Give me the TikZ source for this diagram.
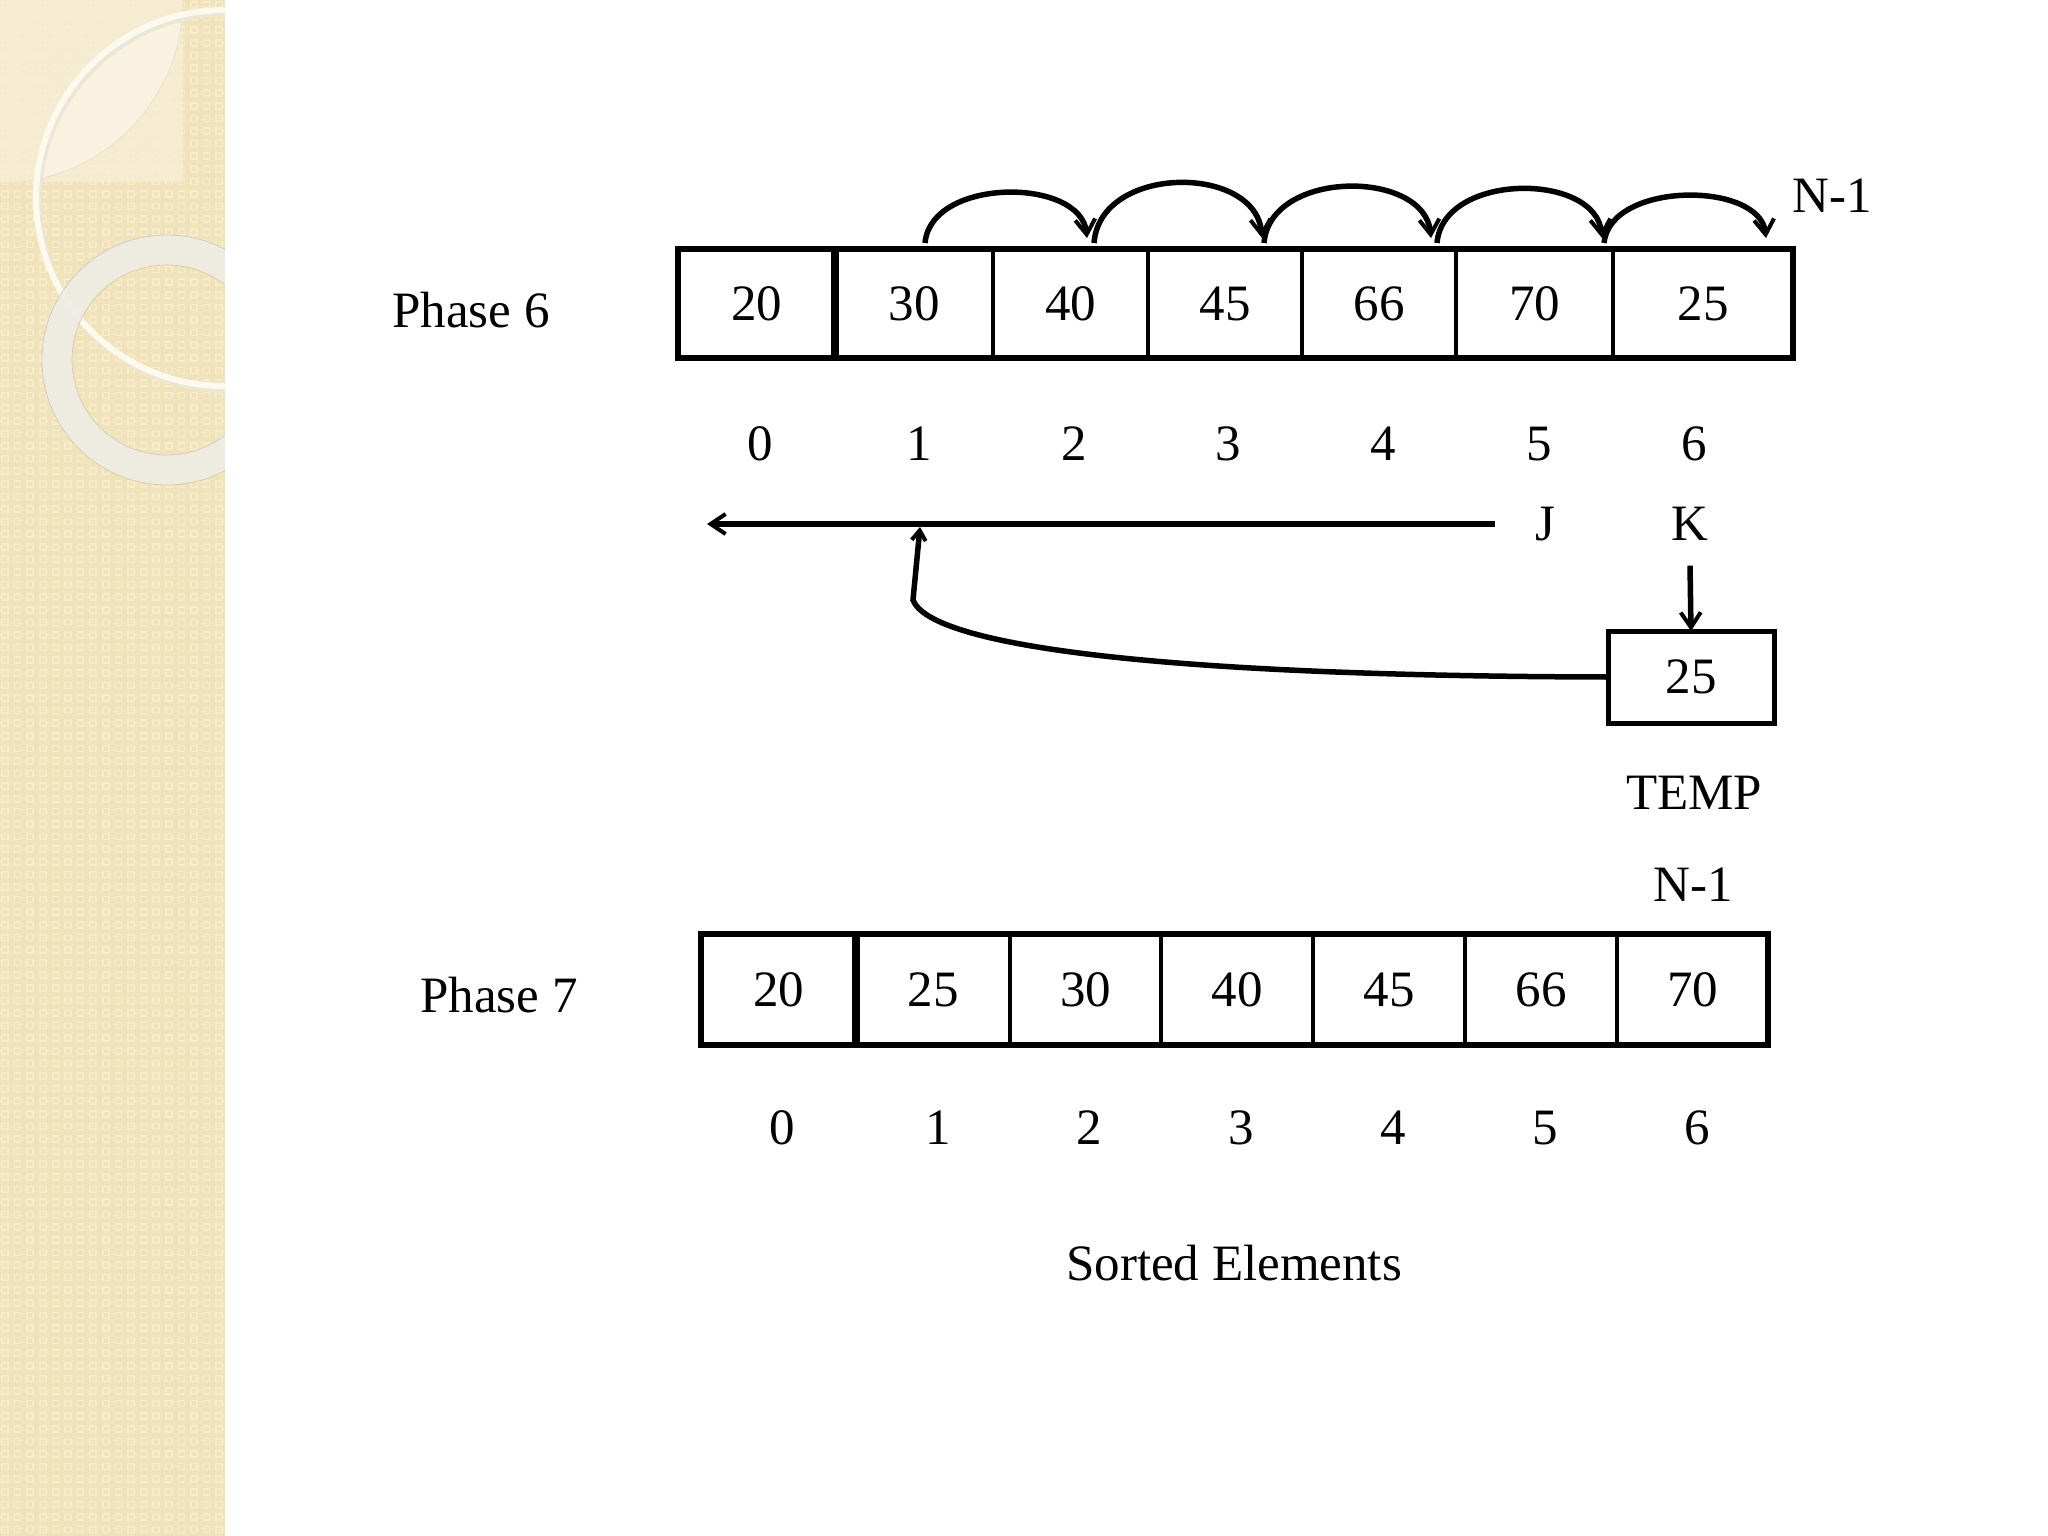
\documentclass[tikz,border=0pt]{standalone}
\usepackage{fontspec}
\setmainfont{Liberation Serif}
\usetikzlibrary{arrows.meta}
\definecolor{stripcol}{RGB}{240,226,187}
\definecolor{stripdot}{RGB}{246,235,203}
\definecolor{stripltc}{RGB}{247,238,214}
\definecolor{lenscol}{RGB}{250,244,228}
\definecolor{ringcol}{RGB}{238,236,229}
\definecolor{ringedge}{RGB}{215,205,180}
\definecolor{creamline}{RGB}{253,249,236}
\begin{document}
\begin{tikzpicture}[x=1pt,y=-1pt,
  txt/.style={inner sep=0pt, outer sep=0pt, font=\fontsize{51}{61}\selectfont},
  cell/.style={txt, draw, line width=4.5pt, minimum height=109pt},
  bcell/.style={txt, draw, line width=4.5pt, minimum height=111pt},
  arr/.style={line width=5.5pt, -{Straight Barb[length=15pt,width=20pt,line width=4pt]}},
  arrsm/.style={line width=5.5pt, -{Straight Barb[length=10pt,width=14pt,line width=4pt]}}
]
\useasboundingbox (0,0) rectangle (2048,1536);
\fill[white] (0,0) rectangle (2048,1536);
% decorative strip
\begin{scope}
\clip (0,0) rectangle (225,1536);
\fill[stripcol] (0,0) rectangle (225,1536);
\draw[stripdot, line width=1.6pt] \foreach \i in {0,...,17} {\foreach \j in {0,...,121} {(2+12.6*\i,2+12.6*\j) rectangle ++(6,6)}};
\fill[stripltc, opacity=0.8] (0,0) rectangle (183,182);
\begin{scope}
\clip (224,198) circle[radius=188];
\fill[lenscol, opacity=0.8] (183,0) arc[start angle=0, end angle=90, radius=183] -- (0,0) -- cycle;
\end{scope}
\draw[ringedge!60, line width=0.8pt] (183,0) arc[start angle=0, end angle=90, radius=183];
\draw[ringedge!50, line width=7pt] (226,201) circle[radius=188];
\draw[creamline, line width=6pt] (224,198) circle[radius=188];
\fill[ringcol, opacity=0.92, even odd rule] (167,360) circle[radius=125] (167,360) circle[radius=95];
\draw[ringedge, line width=0.8pt] (167,360) circle[radius=125] (167,360) circle[radius=95];
\end{scope}
% Phase 6
\node[txt] (p6) at (471,310) {Phase 6};
\node[cell, minimum width=157pt] (a0) at (756.5,303.5) {20};
\node[cell, minimum width=158pt] (a1) at (914,303.5) {30};
\node[cell, minimum width=155pt] (a2) at (1070.5,303.5) {40};
\node[cell, minimum width=154pt] (a3) at (1225,303.5) {45};
\node[cell, minimum width=154pt] (a4) at (1379,303.5) {66};
\node[cell, minimum width=157pt] (a5) at (1534.5,303.5) {70};
\node[cell, minimum width=180pt] (a6) at (1703,303.5) {25};
\draw[line width=5.5pt] (a0.north west) rectangle (a6.south east);
\draw[line width=8pt] (a0.north east) -- (a0.south east);
\node[txt] (n1a) at (1832,196) {N-1};
% arcs
\coordinate (s1) at (925,243); \coordinate (e1) at (1087,238);
\coordinate (s2) at (1094,243); \coordinate (e2) at (1262,238);
\coordinate (s3) at (1264,243); \coordinate (e3) at (1431,238);
\coordinate (s4) at (1437,243); \coordinate (e4) at (1602,238);
\coordinate (s5) at (1604,243); \coordinate (e5) at (1766,238);
\draw[arr] (s1) .. controls (931,177) and (1081,177) .. (e1);
\draw[arr] (s2) .. controls (1100,164) and (1256,164) .. (e2);
\draw[arr] (s3) .. controls (1270,169) and (1425,169) .. (e3);
\draw[arr] (s4) .. controls (1443,172) and (1596,172) .. (e4);
\draw[arr] (s5) .. controls (1610,181) and (1760,181) .. (e5);
% indices
\node[txt] (i0) at (760,444) {0};
\node[txt] (i1) at (919,444) {1};
\node[txt] (i2) at (1074,444) {2};
\node[txt] (i3) at (1228,444) {3};
\node[txt] (i4) at (1383,444) {4};
\node[txt] (i5) at (1539,444) {5};
\node[txt] (i6) at (1694,444) {6};
% J, K, TEMP
\node[txt] (J) at (1545,524) {J};
\node[txt] (K) at (1690,524) {K};
\coordinate (jend) at (707,524);
\draw[arr] ([xshift=-40pt]J.west) -- (jend);
\node[txt, draw, line width=5pt, minimum width=166pt, minimum height=92pt] (temp) at (1691,677) {25};
\draw[arr] ([yshift=-25pt]K.south) -- (temp.north);
\node[txt] (templ) at (1694,793) {TEMP};
\coordinate (cend) at (920,527);
\draw[arrsm] (temp.west) .. controls (1150,676) and (930,645) .. (913,600) -- (cend);
% Phase 7
\node[txt] (p7) at (499,995) {Phase 7};
\node[txt] (n1b) at (1693,885) {N-1};
\node[bcell, minimum width=155pt] (b0) at (778.5,989.5) {20};
\node[bcell, minimum width=154pt] (b1) at (933,989.5) {25};
\node[bcell, minimum width=151pt] (b2) at (1085.5,989.5) {30};
\node[bcell, minimum width=152pt] (b3) at (1237,989.5) {40};
\node[bcell, minimum width=152pt] (b4) at (1389,989.5) {45};
\node[bcell, minimum width=152pt] (b5) at (1541,989.5) {66};
\node[bcell, minimum width=151pt] (b6) at (1692.5,989.5) {70};
\draw[line width=5.5pt] (b0.north west) rectangle (b6.south east);
\draw[line width=8pt] (b0.north east) -- (b0.south east);
\node[txt] (j0) at (782,1128) {0};
\node[txt] (j1) at (938,1128) {1};
\node[txt] (j2) at (1089,1128) {2};
\node[txt] (j3) at (1241,1128) {3};
\node[txt] (j4) at (1393,1128) {4};
\node[txt] (j5) at (1545,1128) {5};
\node[txt] (j6) at (1697,1128) {6};
\node[txt] (sorted) at (1234,1263) {Sorted Elements};
\end{tikzpicture}
\end{document}
